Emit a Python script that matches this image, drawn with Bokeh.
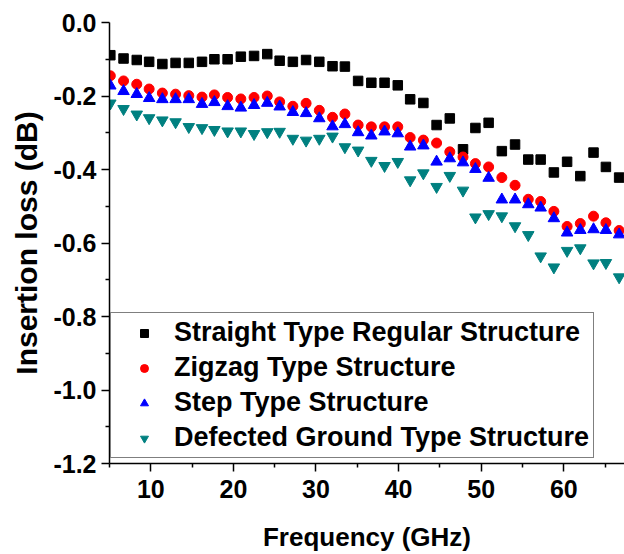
from bokeh.plotting import figure
from bokeh.models import FixedTicker, PrintfTickFormatter, Range1d, Legend, LegendItem
from bokeh.embed import file_html
from bokeh.resources import INLINE

freq = [5.1, 6.7, 8.3, 9.8, 11.4, 13.0, 14.6, 16.2, 17.7, 19.3, 20.9, 22.5, 24.1, 25.6,
        27.2, 28.8, 30.4, 32.0, 33.5, 35.1, 36.7, 38.3, 39.9, 41.4, 43.0, 44.6, 46.2,
        47.8, 49.3, 50.9, 52.5, 54.1, 55.7, 57.2, 58.8, 60.4, 62.0, 63.6, 65.1, 66.7]

straight = [-0.089, -0.098, -0.102, -0.107, -0.113, -0.110, -0.110, -0.107, -0.100, -0.100,
            -0.093, -0.091, -0.086, -0.104, -0.107, -0.102, -0.107, -0.119, -0.120, -0.159,
            -0.164, -0.164, -0.171, -0.209, -0.219, -0.279, -0.261, -0.345, -0.287, -0.273,
            -0.350, -0.332, -0.373, -0.373, -0.408, -0.379, -0.418, -0.354, -0.393, -0.422]

zigzag = [-0.145, -0.159, -0.168, -0.181, -0.192, -0.195, -0.199, -0.203, -0.197, -0.204,
          -0.208, -0.204, -0.200, -0.216, -0.228, -0.220, -0.239, -0.258, -0.249, -0.279,
          -0.284, -0.284, -0.284, -0.313, -0.320, -0.328, -0.352, -0.366, -0.384, -0.393,
          -0.422, -0.443, -0.481, -0.487, -0.514, -0.555, -0.547, -0.527, -0.545, -0.566]

step = [-0.172, -0.187, -0.195, -0.206, -0.209, -0.209, -0.209, -0.222, -0.217, -0.228,
        -0.232, -0.225, -0.219, -0.229, -0.244, -0.247, -0.261, -0.283, -0.277, -0.299,
        -0.308, -0.297, -0.302, -0.338, -0.335, -0.379, -0.370, -0.381, -0.399, -0.423,
        -0.482, -0.482, -0.495, -0.504, -0.533, -0.572, -0.565, -0.563, -0.565, -0.577]

defected = [-0.220, -0.235, -0.250, -0.260, -0.266, -0.271, -0.284, -0.287, -0.292, -0.296,
            -0.296, -0.303, -0.298, -0.297, -0.316, -0.321, -0.316, -0.310, -0.339, -0.348,
            -0.376, -0.390, -0.379, -0.429, -0.410, -0.447, -0.417, -0.457, -0.530, -0.521,
            -0.527, -0.554, -0.578, -0.636, -0.666, -0.621, -0.614, -0.655, -0.654, -0.693]

labels = ["Straight Type Regular Structure", "Zigzag Type Structure",
          "Step Type Structure", "Defected Ground Type Structure"]

x_major = [10, 20, 30, 40, 50, 60]
x_minor = [5, 15, 25, 35, 45, 55, 65]
y_major = [-1.2, -1.0, -0.8, -0.6, -0.4, -0.2, 0.0]
y_minor = [-1.1, -0.9, -0.7, -0.5, -0.3, -0.1]

FONT = "Liberation Sans"

p = figure(width=624, height=554, output_backend="svg", toolbar_location=None,
           x_range=Range1d(5, 67.35), y_range=Range1d(-1.2, 0.0),
           min_border_left=109, min_border_right=0, min_border_top=22, min_border_bottom=91)
p.grid.visible = False
p.outline_line_color = None
p.background_fill_color = "white"
p.border_fill_color = "white"

r1 = p.scatter(freq, straight, marker="square", size=9.5, color="#000000")
r2 = p.scatter(freq, zigzag, marker="circle", size=10, color="#ff0000")
r3 = p.scatter(freq, step, marker="triangle", size=11.5, color="#0000ff")
r4 = p.scatter(freq, defected, marker="inverted_triangle", size=11.5, color="#008080")

for ax in (p.xaxis[0], p.yaxis[0]):
    ax.axis_line_width = 1.5
    ax.major_tick_line_width = 1.5
    ax.minor_tick_line_width = 1.5
    ax.major_tick_in = 0
    ax.minor_tick_in = 0
    ax.major_tick_out = 8
    ax.minor_tick_out = 4
    ax.major_label_text_font = FONT
    ax.major_label_text_font_style = "bold"
    ax.major_label_text_font_size = "25px"
    ax.major_label_text_color = "black"
    ax.axis_label_text_font = FONT
    ax.axis_label_text_font_style = "bold"
    ax.axis_label_text_color = "black"

p.xaxis.axis_label_text_font_size = "26px"
p.yaxis.axis_label_text_font_size = "30px"
p.xaxis.ticker = FixedTicker(ticks=x_major, minor_ticks=x_minor)
p.yaxis.ticker = FixedTicker(ticks=y_major, minor_ticks=y_minor)
p.yaxis.formatter = PrintfTickFormatter(format="%.1f")
p.xaxis.axis_label = "Frequency (GHz)"
p.yaxis.axis_label = "Insertion loss (dB)"
p.xaxis.major_label_standoff = 8
p.yaxis.major_label_standoff = 5
p.xaxis.axis_label_standoff = 21
p.yaxis.axis_label_standoff = 7

legend = Legend(items=[LegendItem(label=labels[0], renderers=[r1]),
                       LegendItem(label=labels[1], renderers=[r2]),
                       LegendItem(label=labels[2], renderers=[r3]),
                       LegendItem(label=labels[3], renderers=[r4])],
                location=(1, 5))
legend.border_line_color = "black"
legend.border_line_width = 1
legend.background_fill_alpha = 1
legend.label_text_font = FONT
legend.label_text_font_style = "bold"
legend.label_text_font_size = "27px"
legend.label_text_color = "black"
legend.glyph_width = 58
legend.glyph_height = 20
legend.label_height = 25
legend.label_width = 412
legend.label_standoff = 1
legend.spacing = 4
legend.padding = 4
legend.margin = 0
p.add_layout(legend, "center")

open("out.html", "w").write(file_html(p, INLINE))
